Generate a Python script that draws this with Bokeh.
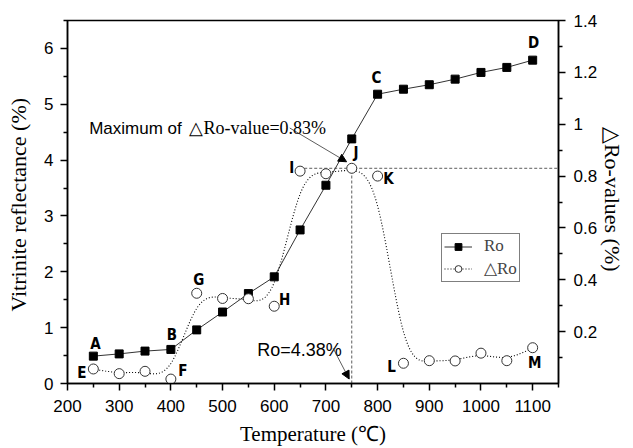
import numpy as np
from bokeh.plotting import figure
from bokeh.models import (Range1d, LinearAxis, FixedTicker, Label, Arrow, NormalHead,
                          Legend, LegendItem)
from bokeh.core.properties import value
from bokeh.embed import file_html
from bokeh.resources import INLINE

# ---- data ----
temperature = [250, 300, 350, 400, 450, 500, 550, 600, 650, 700, 750, 800, 850, 900, 950, 1000, 1050, 1100]
ro_values = [0.49, 0.53, 0.58, 0.61, 0.96, 1.28, 1.61, 1.91, 2.75, 3.55, 4.38, 5.18, 5.27, 5.35, 5.45, 5.57, 5.66, 5.79]
delta_ro = [0.056, 0.038, 0.047, 0.017, 0.348, 0.328, 0.327, 0.298, 0.819, 0.809, 0.83, 0.80, 0.078, 0.088, 0.087, 0.117, 0.088, 0.138]

x_ticks = [200, 300, 400, 500, 600, 700, 800, 900, 1000, 1100]
left_ticks = [0, 1, 2, 3, 4, 5, 6]
right_ticks = [0.2, 0.4, 0.6, 0.8, 1.0, 1.2, 1.4]

# point letters (label, x, y on left axis scale)
point_labels = ["A", "B", "C", "D", "E", "F", "G", "H", "I", "J", "K", "L", "M"]
point_label_x = [254, 402, 798, 1102, 228, 423, 454, 620, 634, 758, 821, 827, 1104]
point_label_y = [0.70, 0.87, 5.47, 6.09, 0.18, 0.23, 1.85, 1.49, 3.86, 4.12, 3.67, 0.29, 0.36]

max_delta = 0.83
ro_at_max = 4.38
temp_at_max = 750

SERIF = "Liberation Serif"
SANS = "Liberation Sans"


def bspline(xs, ys, n=24):
    px = [xs[0]] * 2 + list(xs) + [xs[-1]] * 2
    py = [ys[0]] * 2 + list(ys) + [ys[-1]] * 2
    ox, oy = [], []
    t = np.linspace(0, 1, n)
    b0 = (1 - t) ** 3 / 6
    b1 = (3 * t ** 3 - 6 * t ** 2 + 4) / 6
    b2 = (-3 * t ** 3 + 3 * t ** 2 + 3 * t + 1) / 6
    b3 = t ** 3 / 6
    for i in range(len(px) - 3):
        ox.extend(b0 * px[i] + b1 * px[i + 1] + b2 * px[i + 2] + b3 * px[i + 3])
        oy.extend(b0 * py[i] + b1 * py[i + 1] + b2 * py[i + 2] + b3 * py[i + 3])
    return ox, oy


p = figure(frame_width=491, frame_height=363, output_backend="svg", toolbar_location=None,
           x_range=Range1d(200, 1150), y_range=Range1d(0, 6.5),
           min_border_left=67, min_border_right=66, min_border_top=20, min_border_bottom=56)
p.extra_y_ranges = {"right": Range1d(0, 1.4)}
p.background_fill_color = "white"
p.border_fill_color = "white"
p.outline_line_color = "black"
p.outline_line_width = 1.5
p.xgrid.visible = False
p.ygrid.visible = False

right_axis = LinearAxis(y_range_name="right")
p.add_layout(right_axis, "right")

for ax in [p.xaxis[0], p.yaxis[0], right_axis]:
    ax.axis_line_width = 1.5
    ax.major_tick_line_width = 1.5
    ax.minor_tick_line_width = 1.5
    ax.major_tick_out = 7
    ax.major_tick_in = 0
    ax.minor_tick_out = 4
    ax.minor_tick_in = 0
    ax.major_label_text_font = SANS
    ax.major_label_text_font_size = "17px"
    ax.major_label_text_color = "black"
    ax.axis_label_text_font = SERIF
    ax.axis_label_text_font_size = "21px"
    ax.axis_label_text_font_style = "normal"
    ax.axis_label_text_color = "black"

p.yaxis[0].axis_label_text_font_size = "22px"
right_axis.axis_label_text_font_size = "22px"
p.xaxis[0].ticker = FixedTicker(ticks=x_ticks, minor_ticks=[t + 50 for t in x_ticks])
p.yaxis[0].ticker = FixedTicker(ticks=left_ticks, minor_ticks=[t + 0.5 for t in left_ticks])
right_axis.ticker = FixedTicker(ticks=right_ticks, minor_ticks=[round(t - 0.1, 1) for t in right_ticks])
p.xaxis[0].axis_label = "Temperature (\u2103)"
p.yaxis[0].axis_label = "Vitrinite reflectance  (%)"
right_axis.axis_label = "\u25b3Ro-values  (%)"
p.xaxis[0].major_label_standoff = 9
p.yaxis[0].major_label_standoff = 7
right_axis.major_label_standoff = 8
p.xaxis[0].axis_label_standoff = 7
p.yaxis[0].axis_label_standoff = 10
right_axis.axis_label_standoff = 0

# guide dashed lines
p.segment(x0=[temp_at_max], y0=[0], x1=[temp_at_max], y1=[max_delta], y_range_name="right",
          line_color="#333333", line_width=0.8, line_dash="3 2")
p.segment(x0=[658], y0=[max_delta], x1=[1150], y1=[max_delta], y_range_name="right",
          line_color="#333333", line_width=0.8, line_dash="3 2")

# Ro series
ro_line = p.line(temperature, ro_values, line_color="#333333", line_width=1)
ro_pts = p.scatter(temperature, ro_values, marker="square", size=8, fill_color="black", line_color="black")

# delta Ro series
sx, sy = bspline(temperature, delta_ro)
d_line = p.line(sx, sy, y_range_name="right", line_color="black", line_width=1.1, line_dash="1 2")
d_pts = p.scatter(temperature, delta_ro, y_range_name="right", marker="circle", size=10,
                  fill_color="white", line_color="#333333", line_width=1)

# letters
p.text(point_label_x, point_label_y, text=point_labels, text_font=value("DejaVu Sans Condensed"),
       text_font_style="bold", text_font_size="15px", text_align="center", text_baseline="middle",
       text_color="black")

# annotations
p.add_layout(Label(x=242, y=4.57, text="Maximum of", text_font=SANS, text_font_size="17px",
                   text_color="black", text_baseline="alphabetic"))
p.add_layout(Label(x=436, y=4.57, text="\u25b3Ro-value=0.83%", text_font=SERIF, text_font_size="18px",
                   text_color="black", text_baseline="alphabetic"))
p.add_layout(Arrow(x_start=630, y_start=4.575, x_end=740, y_end=3.97, line_width=0.8, line_color="#333333",
                   end=NormalHead(size=8, fill_color="black", line_color="black")))
p.add_layout(Label(x=567, y=0.6, text="Ro=%.2f%%" % ro_at_max, text_font=SANS, text_font_size="18px",
                   text_color="black", text_baseline="alphabetic"))
p.add_layout(Arrow(x_start=714, y_start=0.63, x_end=745, y_end=0.08, line_width=0.8, line_color="#333333",
                   end=NormalHead(size=8, fill_color="black", line_color="black")))

legend = Legend(items=[LegendItem(label="Ro", renderers=[ro_line, ro_pts]),
                       LegendItem(label="\u25b3Ro", renderers=[d_line, d_pts])],
                location=(374, 101), label_text_font=SERIF, label_text_font_size="17px",
                glyph_width=28, glyph_height=17, label_height=17, label_width=10, label_standoff=12,
                padding=2, spacing=2, margin=0, border_line_color="black", border_line_width=1,
                background_fill_alpha=1)
p.add_layout(legend)

open("out.html", "w").write(file_html(p, INLINE))
